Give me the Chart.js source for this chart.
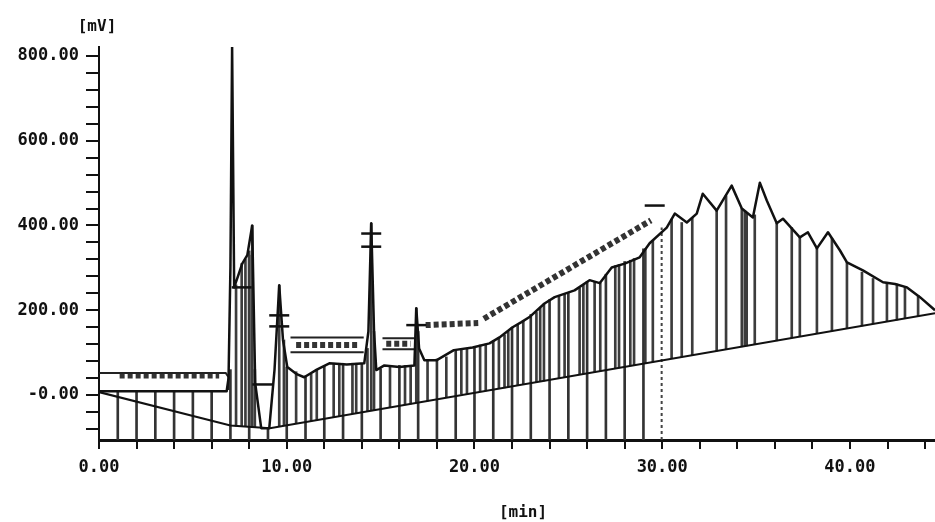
<!DOCTYPE html>
<html>
<head>
<meta charset="utf-8">
<script src="https://cdn.jsdelivr.net/npm/chart.js@4.4.0/dist/chart.umd.min.js"></script>
<style>
html,body{margin:0;padding:0;background:#fff;}
#wrap{width:935px;height:522px;}
</style>
</head>
<body>
<div id="wrap"><canvas id="mainChart" width="935" height="522"></canvas></div>
<script>
"use strict";
// axis range
const X_MAX=44.53;
const Y_MIN=-106;
const Y_MAX=821;

// detector trace (min / mV)
const signalTime=[0,6.8,6.9,7.0,7.09,7.2,7.4,7.63,7.9,8.16,8.32,8.64,9.07,9.35,9.6,9.8,10.03,10.5,10.93,11.6,12.27,13.2,14.13,14.35,14.5,14.65,14.77,15.2,16.0,16.8,16.9,17.05,17.33,17.97,18.9,19.9,20.8,21.33,22.03,22.5,22.93,23.73,24.27,25.33,26.13,26.67,27.31,28.0,28.8,29.33,30.24,30.67,31.31,31.84,32.16,32.9,33.7,34.24,34.83,35.2,35.57,36.1,36.43,37.33,37.76,38.24,38.83,39.47,39.84,40.69,41.76,42.4,43.04,43.73,44.53];
const signalMv=[9,9,40,300,822,254,280,310,330,400,28,-78,-78,60,259,130,66,50,42,60,75,72,75,150,405,150,59,70,66,70,205,110,82,82,106,112,122,136,160,172,184,216,231,247,271,264,301,310,325,358,395,428,407,428,475,435,494,440,419,501,459,405,416,372,384,346,384,341,313,294,266,262,254,231,200];

// integration baseline
const baselineTime=[0,7.0,9.1,44.53];
const baselineMv=[7,-72,-78,193];

// one-minute marks drawn up from the time axis
const minuteTime=[1,2,3,4,5,6,7,8,9,10,11,12,13,14,15,16,17,18,19,20,21,22,23,24,25,26,27,28,29];
const minuteTop=[9,9,9,9,9,9,60,330,-78,66,45,68,75,73,62,70,150,85,106,114,128,160,190,225,242,268,285,315,345];

// peak drop lines (baseline -> trace)
const dropTime=[7.3,7.6,7.8,8.0,8.16,8.3,9.6,9.85,10.5,11.3,11.6,12.5,12.8,13.5,13.7,14.3,14.5,14.65,15.5,16.3,16.6,16.9,17.5,18.5,19.3,19.6,20.3,20.6,21.3,21.6,21.8,22.3,22.6,23.3,23.5,23.7,24.5,24.8,25.6,25.8,26.4,26.7,27.5,27.7,28.3,28.5,29.1,29.5,30.5,31.04,31.6,32.9,33.4,34.24,34.4,34.5,34.93,36.1,36.9,37.33,38.24,39.04,39.84,40.64,41.23,41.97,42.5,42.93,43.63];
const dropLow=[-73,-74,-74,-75,-76,-76,-74,-72,-67,-61,-59,-52,-50,-44,-43,-38,-37,-36,-29,-23,-21,-18,-14,-6,0,2,8,10,15,17,19,23,25,30,32,33,39,42,48,50,54,57,63,64,69,70,75,78,86,90,95,104,108,114,116,116,120,128,135,138,145,151,157,163,168,174,177,181,186];
const dropHigh=[260,310,320,340,400,60,259,130,55,50,60,75,75,75,75,110,405,150,68,70,70,205,82,90,108,110,118,120,135,142,150,165,175,195,205,215,235,240,252,260,268,264,305,308,318,322,345,365,415,407,418,435,470,440,435,430,425,405,395,372,346,370,313,290,275,266,262,255,235];

// dotted marker at 30 min
const markerTime=[29.97,29.97];
const markerMv=[-106,395];

// peak crossbars
const peakMarkTime=[7.6,8.7,9.6,9.6,14.5,14.5,16.9,29.6];
const peakMarkMv=[254,25,188,162,381,350,165,447];

// printed peak-label boxes (null = break)
const labelFrameTime=[0,6.75,6.9,6.9,null,10.2,14.1,null,10.2,14.1,null,15.1,16.8,null,15.1,16.8];
const labelFrameMv=[52,52,42,12,null,136,136,null,101,101,null,134,134,null,108,108];
// garbled label print, drawn as broken strokes
const labelTextTime=[1.1,6.4,null,10.5,13.9,null,15.3,16.6,null,17.4,20.2,null,20.5,29.4];
const labelTextMv=[46,46,null,118,118,null,121,121,null,165,170,null,180,412];

const X_TICK_STEP=2;
const Y_TICK_STEP=40;

function pts(xs,ys){
    return xs.map((x,i)=>({x:x,y:ys[i]}));
}

Chart.defaults.font.family="'DejaVu Sans Mono', monospace";
Chart.defaults.color="#111";

const tickFont={family:"'DejaVu Sans Mono', monospace",size:17,weight:'bold'};

const axisLabelPlugin={
    id:'axisLabel',
    afterDraw(chart){
        const ctx=chart.ctx;
        const area=chart.chartArea;
        ctx.save();
        ctx.fillStyle='#111';
        ctx.font="bold 16px 'DejaVu Sans Mono', monospace";
        ctx.textAlign='center';
        ctx.textBaseline='middle';
        ctx.fillText('[mV]',area.left-2,27);
        ctx.fillText('[min]',(area.left+area.right)/2+6,513);
        ctx.restore();
    }
};

const data={
    datasets:[
        {
            type:'line',
            data:pts(signalTime,signalMv),
            borderColor:'#111',
            borderWidth:2.5,
            pointRadius:0,
            tension:0,
            borderJoinStyle:'round',
            order:1
        },
        {
            type:'line',
            data:pts(baselineTime,baselineMv),
            borderColor:'#111',
            borderWidth:2,
            pointRadius:0,
            tension:0,
            order:2
        },
        {
            type:'scatter',
            data:pts(peakMarkTime,peakMarkMv),
            pointStyle:'line',
            pointRadius:10,
            pointBorderWidth:2.5,
            borderColor:'#111',
            showLine:false,
            order:2
        },
        {
            type:'line',
            data:pts(labelFrameTime,labelFrameMv),
            borderColor:'#222',
            borderWidth:2,
            pointRadius:0,
            spanGaps:false,
            order:3
        },
        {
            type:'line',
            data:pts(labelTextTime,labelTextMv),
            borderColor:'#333',
            borderWidth:6,
            borderDash:[5,3],
            pointRadius:0,
            spanGaps:false,
            order:3
        },
        {
            type:'line',
            data:pts(markerTime,markerMv),
            borderColor:'#444',
            borderWidth:2,
            borderDash:[3,3],
            pointRadius:0,
            order:4
        },
        {
            type:'bar',
            data:dropTime.map((t,i)=>({x:t,y:[dropLow[i],dropHigh[i]]})),
            backgroundColor:'#3c3c3c',
            barThickness:2,
            grouped:false,
            order:5
        },
        {
            type:'bar',
            data:minuteTime.map((t,i)=>({x:t,y:[Y_MIN,minuteTop[i]]})),
            backgroundColor:'#333',
            barThickness:2,
            grouped:false,
            order:6
        }
    ]
};

const options={
    responsive:false,
    animation:false,
    devicePixelRatio:1,
    //点的半径不要挤压绘图区
    layout:{autoPadding:false,padding:{top:47,left:0,right:0,bottom:0}},
    plugins:{legend:{display:false},tooltip:{enabled:false}},
    scales:{
        x:{
            type:'linear',
            min:0,
            max:X_MAX,
            offset:false,
            afterFit(scale){
                scale.height=82;
                scale.paddingLeft=0;
                scale.paddingRight=0;
            },
            border:{color:'#111',width:3},
            grid:{offset:false,drawOnChartArea:false,drawTicks:true,tickLength:9,color:'#111',lineWidth:2},
            ticks:{
                stepSize:X_TICK_STEP,
                includeBounds:false,
                autoSkip:false,
                maxRotation:0,
                padding:8,
                color:'#111',
                font:tickFont,
                callback:v=>(Math.abs(v%10)<1e-9?v.toFixed(2):'')
            }
        },
        y:{
            type:'linear',
            min:Y_MIN,
            max:Y_MAX,
            afterFit(scale){scale.width=99;},
            border:{color:'#111',width:2},
            grid:{drawOnChartArea:false,drawTicks:true,tickLength:13,color:'#111',lineWidth:2},
            ticks:{
                stepSize:Y_TICK_STEP,
                includeBounds:false,
                autoSkip:false,
                padding:7,
                color:'#111',
                font:tickFont,
                callback:v=>(Math.abs(v%200)<1e-9?(v===0?'-0.00':v.toFixed(2)):'')
            }
        }
    }
};

const mainChart=new Chart(document.getElementById("mainChart"),{
    type:'line',
    data,
    options,
    plugins:[axisLabelPlugin]
});
</script>
</body>
</html>
